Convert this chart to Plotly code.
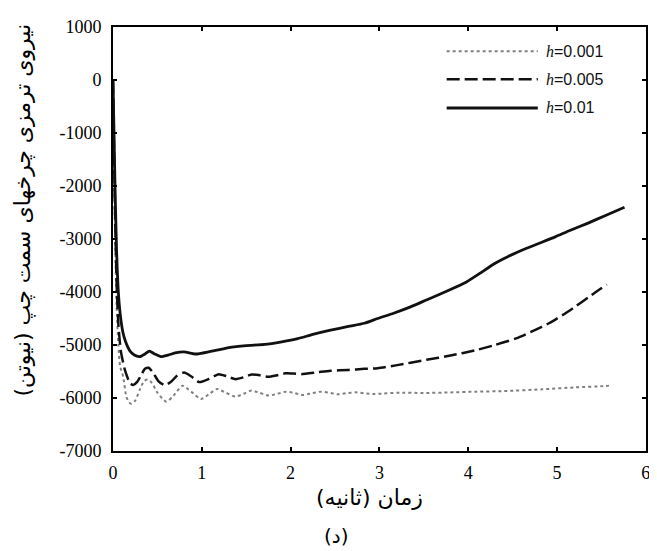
import plotly.graph_objects as go

# ---- data ----
t_h001 = [0, 0.02, 0.04, 0.06, 0.08, 0.115, 0.15, 0.18, 0.21, 0.25, 0.30, 0.35, 0.39, 0.44, 0.50,
          0.60, 0.68, 0.78, 0.88, 0.99, 1.08, 1.17, 1.27, 1.38, 1.47, 1.56, 1.65, 1.75, 1.85, 1.95,
          2.04, 2.14, 2.24, 2.34, 2.43, 2.53, 2.63, 2.73, 2.83, 2.94, 3.05, 3.2, 3.5, 3.8, 4.09,
          4.4, 4.83, 5.2, 5.54, 5.62]
v_h001 = [0, -2600, -4200, -5000, -5400, -5600, -5975, -6080, -6110, -6050, -5850, -5680, -5650,
          -5720, -5900, -6070, -5960, -5770, -5880, -6020, -5930, -5830, -5900, -5975, -5920, -5860,
          -5900, -5955, -5920, -5880, -5905, -5945, -5910, -5880, -5900, -5930, -5910, -5893, -5910,
          -5925, -5915, -5900, -5905, -5895, -5880, -5870, -5836, -5800, -5774, -5760]

t_h005 = [0, 0.02, 0.04, 0.06, 0.086, 0.11, 0.134, 0.16, 0.19, 0.227, 0.27, 0.32, 0.36, 0.40, 0.45,
          0.51, 0.58, 0.65, 0.72, 0.80, 0.88, 0.97, 1.08, 1.19, 1.28, 1.38, 1.47, 1.56, 1.65, 1.75,
          1.85, 1.94, 2.03, 2.12, 2.3, 2.45, 2.65, 2.83, 2.98, 3.2, 3.53, 3.8, 4.09, 4.3, 4.54, 4.75,
          4.91, 5.0, 5.1, 5.21, 5.35, 5.45, 5.56]
v_h005 = [0, -2200, -3800, -4600, -5090, -5300, -5470, -5600, -5720, -5755, -5700, -5560, -5450,
          -5430, -5520, -5680, -5755, -5700, -5580, -5520, -5590, -5700, -5640, -5550, -5590, -5645,
          -5610, -5555, -5570, -5600, -5570, -5535, -5540, -5550, -5515, -5485, -5470, -5450, -5440,
          -5380, -5280, -5200, -5095, -5000, -4875, -4720, -4590, -4500, -4395, -4270, -4105, -3985,
          -3860]

t_h01 = [0, 0.02, 0.04, 0.06, 0.08, 0.11, 0.14, 0.19, 0.24, 0.30, 0.36, 0.41, 0.47, 0.54, 0.62,
         0.70, 0.80, 0.93, 1.1, 1.34, 1.5, 1.71, 1.9, 2.08, 2.25, 2.45, 2.65, 2.83, 2.98, 3.16, 3.35,
         3.53, 3.75, 3.98, 4.13, 4.28, 4.45, 4.65, 4.98, 5.13, 5.35, 5.54, 5.76]
v_h01 = [0, -1800, -3200, -4000, -4400, -4750, -4930, -5110, -5190, -5220, -5170, -5115, -5170,
         -5220, -5190, -5150, -5130, -5170, -5120, -5040, -5010, -4990, -4940, -4880, -4800, -4720,
         -4650, -4590, -4500, -4400, -4280, -4150, -3990, -3810, -3650, -3480, -3330, -3180, -2960,
         -2850, -2700, -2560, -2400]

series_names = ['<span style="font-family:Liberation Serif"><i>h</i></span>=0.001',
                '<span style="font-family:Liberation Serif"><i>h</i></span>=0.005',
                '<span style="font-family:Liberation Serif"><i>h</i></span>=0.01']
x_ticks = [0, 1, 2, 3, 4, 5, 6]
x_ticktext = ["0", "1", "2", "3", "4", "5", "6"]
y_ticks = [1000, 0, -1000, -2000, -3000, -4000, -5000, -6000, -7000]
y_ticktext = ["1000", "0", "-1000", "-2000", "-3000", "-4000", "-5000", "-6000", "-7000"]
x_title = "زمان (ثانیه)"
y_title = "نیروی ترمزی چرخهای سمت چپ (نیوتن)"
caption = "(د)"

styles = [
    dict(color="#808080", width=2, dash="dot"),
    dict(color="#111111", width=2.5, dash="13px,5px"),
    dict(color="#111111", width=2.8, dash="solid"),
]

SERIF = "Liberation Serif"

fig = go.Figure()
for (tx, vy), name, st in zip([(t_h001, v_h001), (t_h005, v_h005), (t_h01, v_h01)], series_names, styles):
    fig.add_trace(go.Scatter(x=tx, y=vy, mode="lines", name=name, line=st,
                             line_shape="spline", line_smoothing=0.6, showlegend=False))

# manual legend (long line samples as in the reference)
leg_y = [0.943, 0.877, 0.809]
for name, st, yy in zip(series_names, styles, leg_y):
    fig.add_shape(type="line", xref="paper", yref="paper", x0=0.626, x1=0.797, y0=yy, y1=yy,
                  line=st)
    fig.add_annotation(xref="paper", yref="paper", x=0.808, y=yy, xanchor="left", yanchor="middle",
                       text=name, showarrow=False,
                       font=dict(family="Liberation Sans", size=16, color="#111"))

axis_common = dict(showline=True, linecolor="black", linewidth=2, mirror="allticks",
                   ticks="inside", ticklen=4, tickwidth=1.5, tickcolor="black",
                   showgrid=False, zeroline=False,
                   tickfont=dict(family=SERIF, size=18, color="black"))
fig.update_xaxes(range=[0, 6.002], tickvals=x_ticks, ticktext=x_ticktext, ticklabelstandoff=4,
                 **axis_common)
fig.update_yaxes(range=[-7000, 1000], tickvals=y_ticks, ticktext=y_ticktext, ticklabelstandoff=6,
                 **axis_common)

fig.add_annotation(xref="paper", yref="paper", x=-0.168, y=0.568, text=y_title, textangle=-90,
                   showarrow=False, xanchor="center", yanchor="middle",
                   font=dict(family="DejaVu Sans", size=22, color="black"))
fig.add_annotation(xref="paper", yref="paper", x=0.482, y=-0.11, text=x_title,
                   showarrow=False, xanchor="center", yanchor="middle",
                   font=dict(family="DejaVu Sans", size=22, color="black"))
fig.add_annotation(xref="paper", yref="paper", x=0.419, y=-0.2, text=caption,
                   showarrow=False, xanchor="center", yanchor="middle",
                   font=dict(family="DejaVu Sans", size=20, color="black"))

# the page body has an 8px margin, so the figure is 8px smaller on each side
fig.update_layout(width=649, height=543, margin=dict(l=105, r=7, t=19, b=100),
                  paper_bgcolor="white", plot_bgcolor="white",
                  font=dict(family=SERIF, color="black"))
fig.write_html("out.html")
